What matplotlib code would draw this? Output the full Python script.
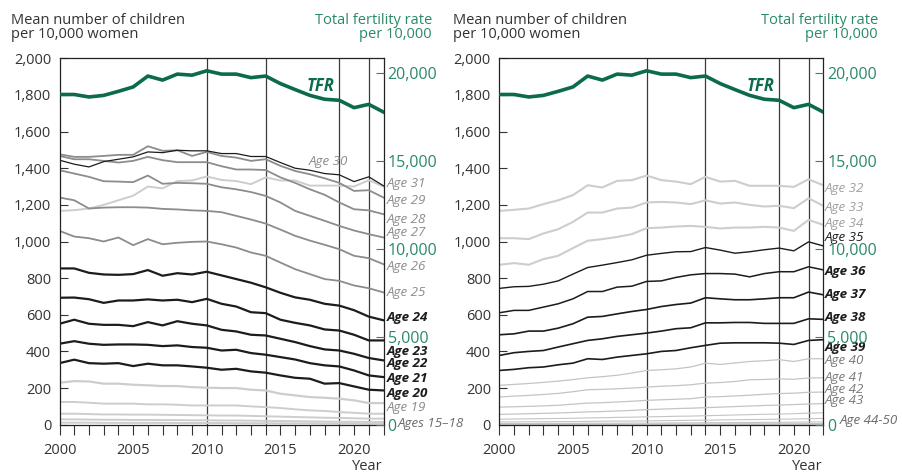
import matplotlib
matplotlib.use("Agg")
import matplotlib.pyplot as plt
from matplotlib.ticker import FixedLocator, MultipleLocator, FuncFormatter

plt.rcParams["font.family"] = ["Open Sans", "DejaVu Sans"]

# ---- data (mean children per 10,000 women) ----
years = list(range(2000, 2023))

# total fertility rate, per 10,000 (right axis)
tfr = [18790, 18790, 18650, 18740, 18970, 19220, 19840, 19610, 19950, 19890, 20140, 19950,
       19950, 19750, 19840, 19410, 19070, 18740, 18520, 18460, 18040, 18230, 17790]

age15 = [11, 11, 11, 10, 10, 10, 10, 10, 9, 9, 9, 9, 8, 8, 8, 7, 7, 7, 6, 6, 6, 5, 5]
age16 = [29, 29, 28, 27, 27, 26, 26, 25, 25, 24, 24, 23, 23, 22, 21, 20, 19, 18, 17, 16, 16, 15, 15]
age17 = [60, 60, 58, 56, 56, 55, 55, 54, 53, 52, 51, 50, 50, 48, 46, 44, 42, 40, 38, 37, 35, 33, 33]
age18 = [124, 124, 120, 115, 115, 115, 111, 111, 109, 105, 105, 105, 105, 100, 96, 91, 84, 78, 75, 69, 65, 60, 60]
age19 = [229, 238, 236, 224, 224, 218, 215, 211, 211, 205, 202, 200, 200, 191, 187, 169, 160, 151, 147, 142, 133, 118, 118]
age20 = [336, 355, 336, 333, 336, 320, 333, 324, 324, 318, 311, 300, 305, 291, 284, 269, 256, 251, 224, 227, 209, 191, 187]
age21 = [442, 456, 442, 436, 438, 438, 436, 429, 433, 424, 420, 405, 409, 391, 382, 369, 356, 336, 324, 318, 296, 269, 260]
age22 = [551, 573, 551, 545, 545, 538, 560, 542, 565, 551, 542, 518, 509, 491, 487, 469, 451, 429, 411, 405, 387, 364, 351]
age23 = [693, 694, 685, 665, 678, 678, 684, 678, 682, 669, 687, 660, 645, 614, 609, 573, 556, 542, 520, 514, 491, 460, 460]
age24 = [853, 853, 829, 820, 818, 822, 844, 813, 827, 820, 835, 815, 795, 775, 750, 720, 695, 682, 660, 650, 625, 590, 570]
age25 = [1058, 1027, 1018, 1000, 1022, 980, 1013, 985, 993, 998, 1000, 985, 967, 940, 922, 885, 849, 822, 795, 785, 760, 745, 722]
age26 = [1240, 1225, 1180, 1185, 1187, 1187, 1185, 1178, 1175, 1170, 1167, 1160, 1140, 1120, 1098, 1065, 1031, 1005, 982, 958, 922, 909, 876]
age27 = [1389, 1371, 1353, 1329, 1327, 1324, 1360, 1315, 1320, 1318, 1315, 1296, 1285, 1270, 1249, 1213, 1167, 1140, 1113, 1085, 1060, 1040, 1022]
age28 = [1467, 1449, 1449, 1440, 1431, 1440, 1462, 1444, 1433, 1433, 1433, 1411, 1393, 1393, 1390, 1350, 1320, 1285, 1255, 1213, 1176, 1170, 1149]
age29 = [1476, 1462, 1462, 1467, 1473, 1473, 1520, 1495, 1498, 1467, 1489, 1467, 1458, 1440, 1449, 1413, 1385, 1367, 1345, 1320, 1276, 1280, 1240]
age30 = [1444, 1422, 1407, 1436, 1449, 1462, 1489, 1485, 1498, 1495, 1495, 1480, 1480, 1464, 1464, 1431, 1400, 1389, 1371, 1364, 1327, 1353, 1304]
age31 = [1167, 1171, 1180, 1200, 1225, 1250, 1300, 1290, 1330, 1333, 1355, 1336, 1330, 1313, 1350, 1333, 1333, 1305, 1305, 1305, 1300, 1335, 1300]
age32 = [1167, 1173, 1180, 1204, 1225, 1253, 1307, 1295, 1331, 1335, 1360, 1335, 1327, 1313, 1353, 1327, 1331, 1304, 1304, 1304, 1298, 1340, 1307]
age33 = [1018, 1018, 1013, 1044, 1067, 1107, 1158, 1158, 1180, 1185, 1213, 1216, 1213, 1204, 1225, 1207, 1213, 1200, 1191, 1195, 1182, 1236, 1195]
age34 = [873, 882, 873, 904, 922, 964, 1004, 1013, 1025, 1040, 1073, 1076, 1082, 1085, 1080, 1071, 1076, 1076, 1080, 1076, 1058, 1118, 1091]
age35 = [744, 753, 755, 767, 785, 822, 858, 871, 885, 900, 925, 935, 944, 945, 967, 953, 936, 944, 955, 964, 949, 998, 976]
age36 = [611, 624, 624, 642, 660, 687, 727, 727, 751, 756, 782, 785, 804, 818, 825, 825, 822, 807, 825, 835, 835, 862, 845]
age37 = [491, 496, 511, 511, 527, 551, 587, 591, 605, 618, 629, 645, 656, 664, 693, 687, 682, 682, 687, 693, 693, 724, 709]
age38 = [378, 393, 400, 405, 424, 442, 460, 469, 482, 491, 500, 511, 524, 529, 556, 556, 558, 558, 553, 553, 553, 578, 575]
age39 = [296, 302, 311, 315, 327, 336, 360, 356, 369, 378, 387, 400, 405, 420, 433, 445, 447, 447, 447, 445, 438, 460, 464]
age40 = [215, 220, 225, 231, 238, 246, 256, 262, 270, 282, 296, 300, 305, 315, 336, 329, 337, 345, 349, 355, 345, 360, 360]
age41 = [151, 156, 160, 165, 171, 180, 191, 193, 196, 200, 205, 210, 213, 218, 227, 230, 236, 245, 247, 250, 248, 255, 256]
age42 = [96, 98, 100, 103, 106, 112, 118, 120, 124, 128, 133, 136, 139, 142, 151, 153, 157, 161, 166, 170, 172, 177, 178]
age43 = [56, 58, 60, 62, 64, 67, 70, 72, 75, 78, 82, 85, 88, 90, 93, 96, 99, 102, 105, 107, 110, 113, 115]
age44 = [30, 31, 32, 33, 34, 35, 37, 38, 40, 41, 43, 44, 46, 47, 49, 51, 53, 55, 57, 58, 60, 63, 65]
age45 = [15, 15, 16, 16, 17, 17, 18, 19, 20, 20, 21, 22, 23, 24, 25, 26, 27, 28, 29, 30, 31, 33, 34]
age46 = [6, 6, 6, 7, 7, 7, 8, 8, 8, 9, 9, 9, 10, 10, 11, 11, 12, 12, 13, 13, 14, 15, 15]
age47 = [2, 2, 2, 3, 3, 3, 3, 3, 3, 3, 3, 4, 4, 4, 4, 4, 5, 5, 5, 5, 5, 6, 6]
age48 = [1, 1, 1, 1, 1, 1, 1, 1, 1, 1, 1, 1, 1, 1, 1, 2, 2, 2, 2, 2, 2, 2, 2]

marker_years = [2010, 2014, 2019, 2021]

# ---- styles ----
INK = "#333333"
GREEN_LINE = "#0b6b4b"
GREEN_TEXT = "#2a8a66"
PALE = "#cdcdcd"
MID = "#8c8c8c"
DARK = "#1c1c1c"
FAINT = "#c4c4c4"
TFR_TOP = 20850      # right-axis value at the top of the frame
FS = 10.5
LABEL_FS = 9.6

left_series = [
    (age15, PALE, 1.4), (age16, PALE, 1.4), (age17, PALE, 1.4), (age18, PALE, 1.4),
    (age19, PALE, 1.6), (age31, PALE, 1.4),
    (age25, MID, 1.3), (age26, MID, 1.3), (age27, MID, 1.3), (age28, MID, 1.3), (age29, MID, 1.3),
    (age20, DARK, 1.6), (age21, DARK, 1.6), (age22, DARK, 1.6), (age23, DARK, 1.6), (age24, DARK, 1.6),
    (age30, DARK, 0.9),
]
left_labels = [
    ("Age 30", 2016.9, 1435, MID, "normal"),
    ("Age 31", 2022.2, 1316, MID, "normal"),
    ("Age 29", 2022.2, 1222, MID, "normal"),
    ("Age 28", 2022.2, 1118, MID, "normal"),
    ("Age 27", 2022.2, 1049, MID, "normal"),
    ("Age 26", 2022.2, 862, MID, "normal"),
    ("Age 25", 2022.2, 720, MID, "normal"),
    ("Age 24", 2022.2, 587, DARK, "bold"),
    ("Age 23", 2022.2, 402, DARK, "bold"),
    ("Age 22", 2022.2, 333, DARK, "bold"),
    ("Age 21", 2022.2, 251, DARK, "bold"),
    ("Age 20", 2022.2, 173, DARK, "bold"),
    ("Age 19", 2022.2, 93, "#8a8a8a", "normal"),
    ("Ages 15\u201318", 2023.0, 9, "#6a6a6a", "normal"),
]

right_series = [
    (age44, FAINT, 0.8), (age45, FAINT, 0.8), (age46, FAINT, 0.8), (age47, FAINT, 0.8), (age48, FAINT, 0.8),
    (age40, FAINT, 0.9), (age41, FAINT, 0.9), (age42, FAINT, 0.9), (age43, FAINT, 0.9),
    (age32, PALE, 1.5), (age33, PALE, 1.5), (age34, PALE, 1.5),
    (age35, DARK, 1.0), (age36, DARK, 1.1), (age37, DARK, 1.2), (age38, DARK, 1.2), (age39, DARK, 1.2),
]
right_labels = [
    ("Age 32", 2022.1, 1289, "#a0a0a0", "normal"),
    ("Age 33", 2022.1, 1185, "#a0a0a0", "normal"),
    ("Age 34", 2022.1, 1098, "#a0a0a0", "normal"),
    ("Age 35", 2022.1, 1022, DARK, "normal"),
    ("Age 36", 2022.1, 835, DARK, "bold"),
    ("Age 37", 2022.1, 709, DARK, "bold"),
    ("Age 38", 2022.1, 584, DARK, "bold"),
    ("Age 39", 2022.1, 424, DARK, "bold"),
    ("Age 40", 2022.1, 351, "#7a7a7a", "normal"),
    ("Age 41", 2022.1, 255, "#7a7a7a", "normal"),
    ("Age 42", 2022.1, 191, "#7a7a7a", "normal"),
    ("Age 43", 2022.1, 133, "#7a7a7a", "normal"),
    ("Age 44-50", 2023.1, 24, "#6a6a6a", "normal"),
]


def draw_panel(fig, rect, series, labels):
    ax = fig.add_axes(rect)
    for vals, color, lw in series:
        ax.plot(years, vals, color=color, lw=lw, solid_joinstyle="round")
    for yr in marker_years:
        ax.axvline(yr, color="#3a3a3a", lw=0.9, zorder=1.5)

    ax.set_xlim(2000, 2022)
    ax.set_ylim(0, 2000)
    ax.xaxis.set_major_locator(MultipleLocator(5))
    ax.xaxis.set_minor_locator(MultipleLocator(1))
    ax.tick_params(axis="x", which="both", direction="out", length=7, width=0.8,
                   color=INK, labelsize=FS, labelcolor=INK, pad=6)
    ax.yaxis.set_major_locator(MultipleLocator(200))
    ax.yaxis.set_major_formatter(FuncFormatter(lambda v, p: f"{int(v):,}"))
    ax.tick_params(axis="y", direction="in", length=6, width=0.8, color=INK,
                   labelsize=FS, labelcolor=INK, pad=6)
    for sp in ax.spines.values():
        sp.set_color("#222222")
        sp.set_linewidth(0.9)

    for text, x, y, color, weight in labels:
        ax.text(x, y, text, color=color, fontsize=LABEL_FS, style="italic", weight=weight,
                ha="left", va="center", clip_on=False)

    ax2 = ax.twinx()
    ax2.plot(years, tfr, color=GREEN_LINE, lw=2.6, solid_joinstyle="round")
    ax2.set_ylim(0, TFR_TOP)
    ax2.yaxis.set_major_locator(FixedLocator([0, 5000, 10000, 15000, 20000]))
    ax2.yaxis.set_major_formatter(FuncFormatter(lambda v, p: f"{int(v):,}"))
    ax2.tick_params(axis="y", direction="in", length=6, width=0.8, color=GREEN_TEXT,
                    labelsize=FS + 1, labelcolor=GREEN_TEXT, pad=3)
    for sp in ax2.spines.values():
        sp.set_visible(False)
    ax2.text(2016.8, 19300, "TFR", color=GREEN_LINE, fontsize=12, style="italic",
             weight="bold", ha="left", va="center")
    return ax


fig = plt.figure(figsize=(9.03, 4.75), dpi=100)
H = 475.0
W = 903.0

panels = [
    (59.5, left_series, left_labels, 11, 432),
    (499.3, right_series, right_labels, 453, 878),
]
for x0, series, labels, tx, rx in panels:
    draw_panel(fig, [x0 / W, 1 - 424.7 / H, 324 / W, 366.4 / H], series, labels)
    fig.text(tx / W, 1 - 24 / H, "Mean number of children", fontsize=FS, color=INK,
             ha="left", va="baseline")
    fig.text(tx / W, 1 - 38.5 / H, "per 10,000 women", fontsize=FS, color=INK,
             ha="left", va="baseline")
    fig.text(rx / W, 1 - 24 / H, "Total fertility rate", fontsize=FS, color=GREEN_TEXT,
             ha="right", va="baseline")
    fig.text(rx / W, 1 - 38.5 / H, "per 10,000", fontsize=FS, color=GREEN_TEXT,
             ha="right", va="baseline")
    fig.text((x0 + 323) / W, 1 - 466 / H, "Year", fontsize=FS, color=INK,
             ha="right", va="center")

fig.savefig("out.png", dpi=100)
